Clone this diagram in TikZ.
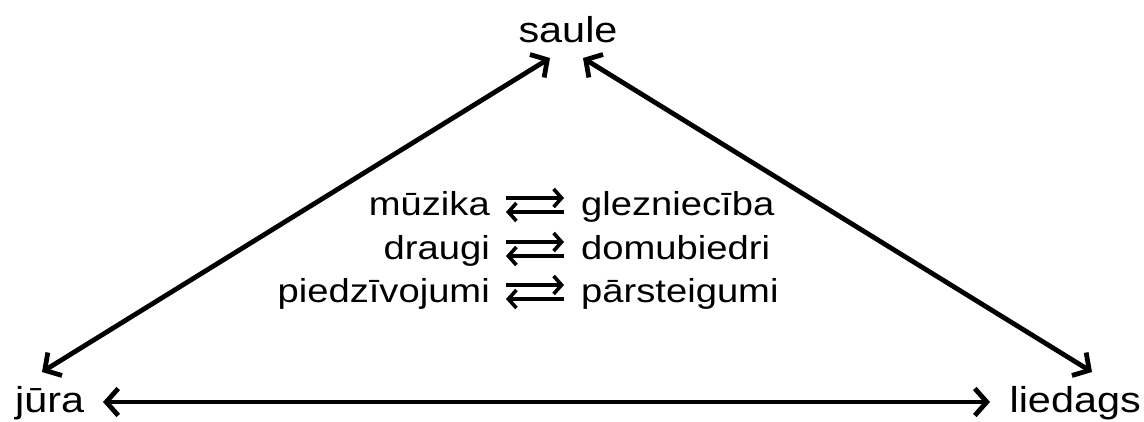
\documentclass[tikz,border=0pt]{standalone}
\usepackage{fontspec}
\setmainfont{Liberation Sans}[FakeStretch=1.15]
\usetikzlibrary{arrows.meta,calc}
\begin{document}
\begin{tikzpicture}[x=1pt,y=-1pt,
  lbl/.style={inner sep=0pt, font=\fontsize{36}{40}\selectfont},
  mid/.style={inner sep=0pt, font=\fontsize{33.2}{40}\selectfont},
  big/.style={line width=4.8pt, {Straight Barb[length=12pt,width=27pt]}-{Straight Barb[length=12pt,width=27pt]}},
  sm/.style={line width=3.6pt, -{Straight Barb[length=8pt,width=18pt]}}]
\useasboundingbox (0,0) rectangle (1144,421);
\node[lbl, anchor=base] (saule) at (568,42) {saule};
\node[lbl, anchor=base west] (jura) at (15,412) {jūra};
\node[lbl, anchor=base east] (liedags) at (1141,412) {liedags};
% connector end points
\coordinate (sL) at ($(saule.base)+(-18,16)$);
\coordinate (sR) at ($(saule.base)+(15,16)$);
\coordinate (jL) at ($(jura.base west)+(27,-40)$);
\coordinate (jH) at ($(jura.base west)+(88,-10)$);
\coordinate (lR) at ($(liedags.base east)+(-49,-40)$);
\coordinate (lH) at ($(liedags.base east)+(-151,-10)$);
\draw[big] (jL) -- (sL);
\draw[big] (sR) -- (lR);
\draw[big] (jH) -- (lH);
% middle
\node[mid, anchor=base east] (m1) at (490,215) {mūzika};
\node[mid, anchor=base west] (g1) at (581,215) {glezniecība};
\node[mid, anchor=base east] (d1) at (490,259) {draugi};
\node[mid, anchor=base west] (d2) at (581,259) {domubiedri};
\node[mid, anchor=base east] (p1) at (490,302) {piedzīvojumi};
\node[mid, anchor=base west] (p2) at (581,302) {pārsteigumi};
\draw[sm] ($(m1.base east)+(16,-17)$) -- ($(g1.base west)+(-17,-17)$);
\draw[sm] ($(g1.base west)+(-17,-3)$) -- ($(m1.base east)+(16,-3)$);
\draw[sm] ($(d1.base east)+(16,-17)$) -- ($(d2.base west)+(-17,-17)$);
\draw[sm] ($(d2.base west)+(-17,-3)$) -- ($(d1.base east)+(16,-3)$);
\draw[sm] ($(p1.base east)+(16,-17)$) -- ($(p2.base west)+(-17,-17)$);
\draw[sm] ($(p2.base west)+(-17,-3)$) -- ($(p1.base east)+(16,-3)$);
\end{tikzpicture}
\end{document}
